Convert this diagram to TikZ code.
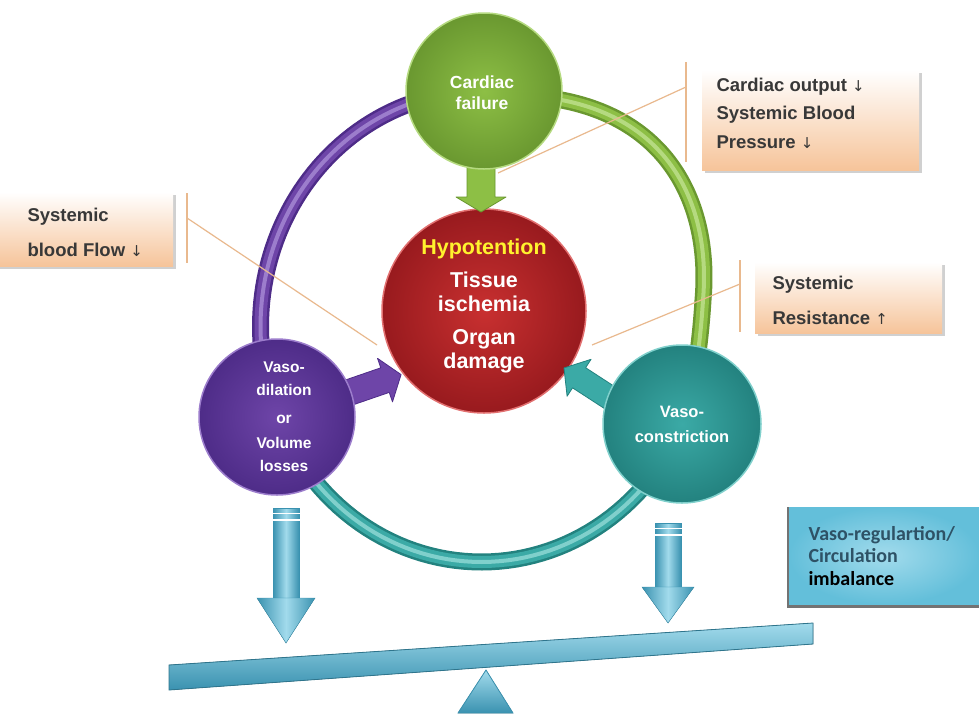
\documentclass[tikz,border=0pt]{standalone}
\usepackage{fontspec}
\setmainfont{Liberation Sans}
\newfontfamily\calfont{Carlito}
\newfontfamily\arrfont{DejaVu Sans}
\usetikzlibrary{calc}
\definecolor{grn}{HTML}{8DBF45}
\definecolor{grnD}{HTML}{6A9830}
\definecolor{grnL}{HTML}{B5DA80}
\definecolor{redM}{HTML}{C83030}
\definecolor{redD}{HTML}{981A1E}
\definecolor{redL}{HTML}{E27070}
\definecolor{pur}{HTML}{6E45A8}
\definecolor{purD}{HTML}{4E2C88}
\definecolor{purL}{HTML}{9C7DCC}
\definecolor{tea}{HTML}{3BAAA6}
\definecolor{teaD}{HTML}{23827F}
\definecolor{teaL}{HTML}{80D0CC}
\definecolor{blu}{HTML}{63BFDA}
\definecolor{bluD}{HTML}{3A92B0}
\definecolor{bluL}{HTML}{A2DBEC}
\definecolor{peach}{HTML}{F6C49A}
\definecolor{tanline}{HTML}{E9B98E}
\definecolor{txt}{HTML}{383838}
\definecolor{hyp}{HTML}{FFF22E}
\definecolor{slate}{HTML}{2E5266}
\newcommand\myDown{{\arrfont\mdseries\fontsize{15}{15}\selectfont ↓}}
\newcommand\myUp{{\arrfont\mdseries\fontsize{15}{15}\selectfont ↑}}
\begin{document}
\begin{tikzpicture}[x=1pt,y=-1pt,
  orb/.style args={#1/#2/#3}{circle, inner sep=0pt, inner color=#1, outer color=#2, draw=#3, line width=1.5pt},
  orbtext/.style args={#1/#2}{text=white, align=center, font=\fontsize{#1}{#2}\selectfont\bfseries},
  callout/.style args={#1/#2}{anchor=west, align=left, text=txt, font=\fontsize{#1}{#2}\selectfont\bfseries},
  peachbox/.style={top color=white, bottom color=peach},
  tline/.style={draw=tanline, line width=1.2pt},
  blockarrow/.style args={#1/#2}{fill=#1, draw=#2, line width=0.8pt, line join=round}
]
\useasboundingbox (0,0) rectangle (979,713);
\fill[white] (0,0) rectangle (979,713);

% ---- ring arcs
\foreach \w/\c in {17/purD,12/pur,4/purL}
  \draw[\c, line width=\w pt] plot[domain=157:271, samples=60] ({481.5+221*cos(\x)},{326.5+235.5*sin(\x)});
\foreach \w/\c in {17/teaD,12/tea,4/teaL}
  \draw[\c, line width=\w pt] plot[domain=25:157, samples=60] ({481.5+221*cos(\x)},{326.5+235.5*sin(\x)});
\foreach \w/\c in {17/grnD,12/grn,4/grnL}
  \draw[\c, line width=\w pt] (530,96) .. controls (660,105) and (712,195) .. (703,300) .. controls (700,350) and (692,400) .. (682,424);

% ---- callout boxes
\fill[black!30, opacity=.6] (705,73) rectangle (922,173);
\fill[peachbox] (702,70) rectangle (919,170);
\fill[black!30, opacity=.6] (0,195) rectangle (176,269);
\fill[peachbox] (0,192) rectangle (173,266);
\fill[black!30, opacity=.6] (758,265) rectangle (945,336);
\fill[peachbox] (755,262) rectangle (942,333);

\coordinate (v1a) at (686,62);  \coordinate (v1b) at (686,162);
\coordinate (v2a) at (187,193); \coordinate (v2b) at (187,263);
\coordinate (v3a) at (740,260); \coordinate (v3b) at (740,332);
\coordinate (c1a) at (686,87);  \coordinate (c1b) at (498,173);
\coordinate (c2a) at (187,218); \coordinate (c2b) at (377,345);
\coordinate (c3a) at (740,284); \coordinate (c3b) at (592,345);
\draw[tline] (v1a) -- (v1b);
\draw[tline] (v2a) -- (v2b);
\draw[tline] (v3a) -- (v3b);
\draw[tline] (c1a) -- (c1b);
\draw[tline] (c2a) -- (c2b);
\draw[tline] (c3a) -- (c3b);

\node[callout=18.5/28.5] (t1) at (713,113) {Cardiac output \myDown\\Systemic Blood\\Pressure \myDown};
\node[callout=18.5/35] (t2) at (24,232) {Systemic\\blood Flow \myDown};
\node[callout=18.5/35] (t3) at (769,300) {Systemic\\Resistance \myUp};

% ---- red centre
\node[orb=redM/redD/redL, minimum size=204pt] (red) at (484,311) {};
\node[orbtext=21.5/24] (redtext) at (484,306) {\textcolor{hyp}{Hypotention}\\[9pt]Tissue\\ischemia\\[9pt]Organ\\damage};

% ---- block arrows into centre
\begin{scope}[shift={(481,160)}, rotate=-90]
  \draw[blockarrow=grn/grnD] (0,-14) -- (37,-14) -- (37,-25) -- (52,0) -- (37,25) -- (37,14) -- (0,14) -- cycle;
\end{scope}
\begin{scope}[shift={(333,398)}, rotate=19]
  \draw[blockarrow=pur/purD] (0,-13) -- (55,-13) -- (55,-23) -- (72,0) -- (55,23) -- (55,13) -- (0,13) -- cycle;
\end{scope}
\begin{scope}[shift={(621,405)}, rotate=147]
  \draw[blockarrow=tea/teaD] (0,-12) -- (50,-12) -- (50,-22) -- (68,0) -- (50,22) -- (50,12) -- (0,12) -- cycle;
\end{scope}

% ---- outer circles
\node[orb=grn/grnD/grnL, minimum size=156pt] (cardiac) at (484,91) {};
\node[orbtext=17.5/21] (cardiactext) at (482,92.5) {Cardiac\\failure};
\node[orb=pur/purD/purL, minimum size=156pt] (vasodil) at (277,417) {};
\node[orbtext=15.5/23] (vasodiltext) at (284,417) {Vaso-\\dilation\\[5pt]or\\[2pt]Volume\\losses};
\node[orb=tea/teaD/teaL, minimum size=158pt] (vasocon) at (682,424) {};
\node[orbtext=16.5/25] (vasocontext) at (682,424.5) {Vaso-\\constriction};

% ---- blue box
\fill[black!55] (787,507) rectangle (979,608);
\fill[inner color=bluL, outer color=blu] (789,507) rectangle (979,604);
\node[anchor=west, align=left, font=\calfont\bfseries\fontsize{20}{22.5}\selectfont] (imb) at (805,556)
  {\textcolor{slate}{Vaso-regulartion/}\\\textcolor{slate}{Circulation}\\imbalance};

% ---- down arrows
\fill[left color=bluD, right color=bluD, middle color=bluL] (273,508) rectangle (299,599);
\draw[bluD, line width=0.8pt] (273,508) rectangle (299,599);
\fill[left color=bluD, right color=bluD, middle color=bluL, draw=bluD] (257,598) -- (315,598) -- (286,643) -- cycle;
\draw[white, line width=1.6pt] (272,513.5) -- (300,513.5) (272,520) -- (300,520);

\fill[left color=bluD, right color=bluD, middle color=bluL] (655,523) rectangle (681,588);
\draw[bluD, line width=0.8pt] (655,523) rectangle (681,588);
\fill[left color=bluD, right color=bluD, middle color=bluL, draw=bluD] (642,587) -- (694,587) -- (668,623) -- cycle;
\draw[white, line width=1.6pt] (654,528.5) -- (682,528.5) (654,535) -- (682,535);

% ---- seesaw
\fill[top color=bluL, bottom color=bluD, draw=bluD!80!black, line width=0.8pt] (169,665) -- (813,623) -- (813,644) -- (169,690) -- cycle;
\fill[top color=bluL, bottom color=bluD, draw=bluD, line width=0.8pt] (486,670) -- (513,713) -- (458,713) -- cycle;
\end{tikzpicture}
\end{document}
